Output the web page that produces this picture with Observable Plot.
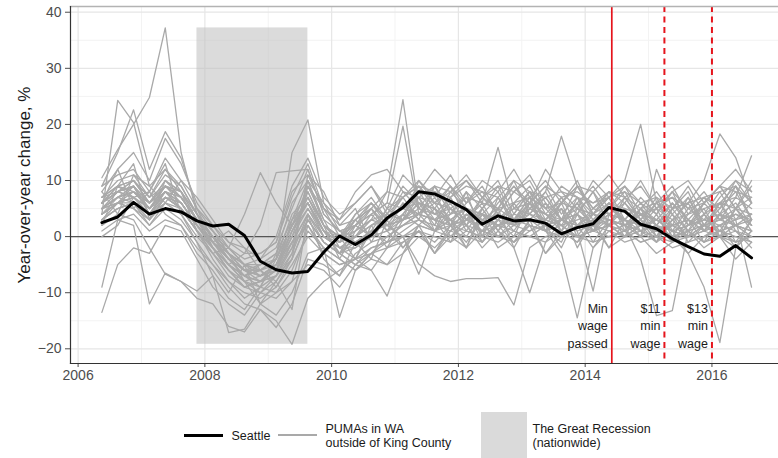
<!DOCTYPE html>
<html>
<head>
<meta charset="utf-8">
<script src="https://cdn.jsdelivr.net/npm/d3@7"></script>
<script src="https://cdn.jsdelivr.net/npm/@observablehq/plot@0.6"></script>
<style>
  body { margin: 0; background: #fff; font-family: "Liberation Sans", Arial, sans-serif; }
  #chart { width: 778px; height: 458px; overflow: hidden; }
  .legend { position: relative; width: 778px; height: 63px; }
  .key { position: absolute; }
  .lab { position: absolute; font-size: 12.5px; color: #1a1a1a; line-height: 14px; white-space: nowrap; }
</style>
</head>
<body>
<div id="chart"></div>
<script>
// Quarters (plotted at the middle of each quarter)
const quarters = [
  "2006Q2","2006Q3","2006Q4",
  "2007Q1","2007Q2","2007Q3","2007Q4",
  "2008Q1","2008Q2","2008Q3","2008Q4",
  "2009Q1","2009Q2","2009Q3","2009Q4",
  "2010Q1","2010Q2","2010Q3","2010Q4",
  "2011Q1","2011Q2","2011Q3","2011Q4",
  "2012Q1","2012Q2","2012Q3","2012Q4",
  "2013Q1","2013Q2","2013Q3","2013Q4",
  "2014Q1","2014Q2","2014Q3","2014Q4",
  "2015Q1","2015Q2","2015Q3","2015Q4",
  "2016Q1","2016Q2","2016Q3"
];

// Seattle, year-over-year change in %
const seattle = [2.5, 3.5, 6.1, 4.0, 5.0, 4.4, 2.8, 1.9, 2.2, 0.2, -4.4, -5.9, -6.5, -6.2, -2.8, 0.1, -1.4, 0.3, 3.3, 5.2, 8.0, 7.6, 6.3, 4.8, 2.2, 3.7, 2.8, 3.0, 2.4, 0.5, 1.6, 2.3, 5.2, 4.5, 2.2, 1.4, -0.4, -1.8, -3.1, -3.5, -1.6, -3.8];

// PUMAs in WA outside of King County, year-over-year change in %
const puma01 = [10.5, 15.5, 20, 24.8, 37.2, 15, 4, -2, -6, -9, -8, -6, 3, 8, 2, -1, 0, 2, 3, 5, 6, 4, 5, 3, 4, 2, 3, 5, 4, 2, 3, 4, 3, 2, 4, 3, 1, 2, 3, 4, 2, 3];
const puma02 = [4, 24.3, 20.3, 9, 12, 8, 3, 0, -4, -7, -5, -4, 2, 6, 1, -3, 2, 6, 3, 8, 5, 9, 4, 7, 2, 6, 9, 5, 3, 7, 4, 8, 2, 6, 3, 7, 1, 5, 8, 4, 6, 2];
const puma03 = [9, 15, 22.6, 12, 18.7, 14, 5, 1, -3, -8, -10, -7, -2, 10, 3, -2, 0, 3, 4, 3, 6, 5, 9, 5, 3, 5, 10, 4, 7, 3, 4, 8, 4, 3, 2, 6, 2, 7, 1, 4, 9, 3];
const puma04 = [-13.5, -5, -2, -3, 2, 1, -4, -9, -12, -14, -10, -11, -8, -5, -6, -9, -5, -3, -1, 0, 2, 1, 0, -2, 1, 0, -1, 2, 1, 0, 2, 1, 0, 1, -1, 0, -2, -1, 0, 1, 0, -1];
const puma05 = [-9, 3, 2, -12, -6.5, -8, -11, -12, -16, -17, -13, -15, -19.2, -11, -8, -6, -4, -6, -2, 0, 1, -1, 2, 1, 0, 2, -1, 1, 3, 2, 0, 1, 2, 0, 1, 3, 1, 0, 2, 1, -1, 0];
const puma06 = [6, 8, 9, 4, 7, 5, 1, -3, -2, 4, 11.4, 6, 2, 9, 5, 0, -4, 2, -2, 3, 7, 1, 4, 8, 0, 5, 3, 7, 1, 5, -2, 3, 6, 2, 5, 0, 4, -1, 2, 6, 1, -2];
const puma07 = [7, 9, 10, 6, 9, 7, 3, -2, -5, -3, 2, 11.4, 11.7, 12, 4, 1, 0, 2, 4, 3, 6, 5, 3, 5, 4, 3, 5, 6, 4, 3, 5, 4, 3, 2, 4, 3, 1, 2, 3, 2, 4, 3];
const puma08 = [5, 8, 10, 7, 11, 9, 4, 0, -4, -7, -9, -4, 15, 20.8, 6, 1, 2, 0, 3, 5, 4, 6, 9, 3, 7, 10, 4, 8, 5, 2, 6, 9, 5, 3, 7, 4, 8, 2, 6, 9, 5, 7];
const puma09 = [3, 6, 5, 2, 6, 4, -1, -7, -17.1, -16.5, -12, -10, -8, 2, -3, -5, -4, -2, -1, 1, 3, 2, 1, 3, 2, 0, 2, 3, 1, 2, 0, 1, 2, 3, 1, 0, 2, 1, -1, 0, 2, 1];
const puma10 = [6, 9, 7, 4, 8, 5, 2, -2, -5, -8, -12, -14, -10, -3, -2, -14.4, -6, -3, 0, 2, 4, 3, -1, 4, 1, 5, -2, 3, 6, 1, 4, -1, 3, 1, 4, 0, 3, 6, 1, 4, -1, 3];
const puma11 = [4, 7, 8, 5, 9, 6, 2, -1, -5, -7, -6, -8, -3, 4, 0, -1, 1, 3, 8, 24.4, 5, 3, 4, 5, 3, 4, 2, 4, 3, 5, 2, 4, 3, 2, 3, 1, 2, 3, 1, 2, 3, 4];
const puma12 = [5, 6, 9, 6, 10, 7, 3, 0, -3, -5, -7, -6, 0, 8, 2, 0, 2, 4, 6, 19.7, 4, 8, 2, -2, 5, 9, 3, 7, 1, 6, 10, 4, 2, 7, 3, -1, 5, 8, 2, 6, 9, 3];
const puma13 = [3, 5, 6, 3, 7, 5, 1, -2, -6, -9, -8, -7, -4, 3, -1, -3, -5, -2, -1, 0, -4.9, -7, -8, -7.5, -7.5, -7.3, -12.2, -2, 0, 1, -1, 2, 1, 0, 2, 1, 0, 1, 2, 0, 1, -1];
const puma14 = [6, 8, 7, 5, 8, 7, 3, 0, -4, -6, -5, -3, 3, 6, 1, -1, 3, 5, 1, 4, 8, 4, 7, 10, 6, 15.9, 5, 8, 3, 6, 9, 4, 7, 2, 5, 8, 4, 1, 6, 3, 7, 5];
const puma15 = [5, 7, 9, 4, 7, 6, 2, -1, -4, -6, -7, -5, 2, 6, 0, -2, -1, 1, 2, 3, 5, 4, 3, 5, 4, 3, 5, 4, 8, 17.9, 9, 5, 4, 3, 2, 3, 2, 3, 2, 3, 4, 2];
const puma16 = [4, 6, 7, 4, 8, 5, 1, -2, -5, -8, -9, -7, -1, 4, -1, -3, -2, 0, 1, 3, 4, 1, 5, 2, -1, 3, 6, 2, 1, -3, -14.5, -2, 2, 5, 1, -1, 3, 0, 4, 1, 5, 2];
const puma17 = [7, 9, 8, 6, 9, 8, 4, 1, -2, -5, -6, -4, 4, 7, 2, 0, 4, 6, 3, 7, 9, 5, 2, 6, 8, 4, 1, 5, 7, 3, 1, -9.7, 4, 6, 2, 5, 0, 4, 7, 3, 5, 1];
const puma18 = [6, 8, 9, 6, 9, 7, 3, -1, -4, -7, -8, -6, 1, 7, 1, -1, 3, 0, 5, 7, 3, 9, 5, 2, 7, 4, 8, 11, 6, 3, 9, 5, 7, 10, 20, 6, 9, 4, 7, 5, 10, 6];
const puma19 = [5, 7, 8, 5, 7, 6, 2, -2, -5, -7, -6, -5, 0, 5, 0, -2, -4, 1, -1, 4, 2, -3, 1, 5, -1, 3, 0, 6, 2, -2, 4, 1, 6, 3, 0, 12, 5, 1, 4, 8, 3, 6];
const puma20 = [4, 6, 6, 4, 7, 5, 1, -2, -6, -8, -7, -6, -1, 4, 0, -2, -2, 0, 1, 2, 4, 3, 2, 4, 3, 2, 4, 3, 2, 3, 4, 2, 3, 2, -4, -14.1, -13.2, 1, 2, 3, 2, 1];
const puma21 = [6, 8, 7, 5, 9, 7, 3, 0, -3, -6, -6, -4, 2, 6, 1, -1, 2, 5, 1, 6, 4, 7, 3, 0, 4, 7, 2, 5, 8, 3, 6, 1, 4, 7, 3, 0, 5, 6, 10, 18.3, 14.1, 6];
const puma22 = [5, 7, 8, 6, 8, 6, 2, -1, -4, -6, -7, -5, 1, 5, 1, -1, 4, 7, 3, 5, 9, 6, 2, 8, 5, 1, 6, 9, 4, 7, 2, 5, 8, 3, 6, 2, 5, 9, 4, 6, 7, 14.4];
const puma23 = [4, 6, 7, 4, 6, 5, 1, -2, -5, -7, -8, -6, -2, 3, -1, -3, -1, 1, 2, 3, 4, 3, 2, 3, 4, 2, 3, 4, 2, 3, 2, 3, 2, 1, 2, 1, 0, -3, -9, -18.9, -2, 1];
const puma24 = [5, 6, 8, 5, 8, 6, 2, -1, -4, -6, -6, -4, 2, 6, 1, 0, 3, 6, 2, 4, 7, 3, 6, 1, 5, 8, 2, 6, 4, 1, 7, 3, 5, 9, 4, 2, 6, 3, -1, 4, 3, -9];
const puma25 = [3, 5, 6, 2, 5, 3, -1, -5, -9, -12, -13, -16.2, -12, -4, -5, -7, -3, -1, 0, 2, 3, 1, 3, 2, 1, 3, 2, 1, 2, 3, 1, 2, 1, 2, 0, 1, 2, 0, 1, 2, 1, 0];
const puma26 = [8, 12, 15, 10, 17.5, 13, 6, 2, -2, -5, -4, -2, 5, 12, 4, 1, 2, 4, 6, 5, 7, 6, 5, 7, 6, 5, 6, 7, 5, 6, 5, 4, 6, 5, 4, 5, 3, 4, 5, 6, 5, 4];
const puma27 = [9, 11, 12, 8, 14, 10, 5, 2, -1, -3, -3, -1, 7, 13, 5, 2, 3, 5, 8, 7, 9, 8, 7, 9, 8, 7, 10, 8, 7, 8, 7, 6, 7, 8, 6, 7, 5, 6, 7, 8, 9, 6];
const puma28 = [1, 3, 4, 1, 3, 2, -2, -5, -8, -10, -11, -9, -5, 0, -3, -5, -4, -3, -2, -1, 1, 0, -1, 1, 0, -1, 1, 0, -1, 1, 0, -1, 0, 1, -1, 0, -1, 0, 1, 0, -1, 0];
const puma29 = [2, 4, 3, -2, -6.7, -8, -9.7, -7, -11, -13, -9, -10, -6, 1, -2, -4, -6, -4, -5, -3, 0, -2, 1, 0, -1, 2, 1, 0, 2, 1, 0, 1, 2, 0, 1, 2, 0, 1, -1, 1, 2, 0];
const puma30 = [7, 10, 11, 7, 12, 9, 4, 1, -3, -5, -5, -3, 3, 10, 6, 3, 8, 11, 12, 8, 7, 9, 8, 10, 7, 9, 8, 6, 9, 7, 8, 6, 8, 7, 5, 6, 7, 5, 6, 9, 8, 7];
const puma31 = [6, 9, 10, 6, 10, 8, 3, -1, -4, -6, -8, -7, -3, 9, 3, 1, -1, 1, 5, 3, 10, 7, 11, 6, 9, 4, 8, 10, 5, 9, 7, 4, 8, 6, 10, 5, 7, 3, 6, 9, 5, 10];
const puma32 = [3, 5, 6, 3, 6, 4, 0, -3, -7, -9, -8, -5, -1, 2, -2, -4, -6, -3, -5, -1, 1, -3, 0, 2, -2, 1, -1, 3, -3, 0, 2, -2, 1, -1, 0, -3, -1, 1, -2, 0, -4, -1];
const puma33 = [7, 8, 10, 7, 9, 8, 4, 0, -2, -4, -3, -1, 8, 11, 5, 3, 6, 9, 4, 7, 10, 6, 8, 11, 7, 5, 9, 6, 12, 8, 5, 10, 7, 9, 6, 4, 8, 5, 3, 7, 10, 8];
const puma34 = [4, 6, 5, 3, 7, 5, 1, -3, -6, -9, -10, -8, -4, 3, -1, -3, -5, -6, -10.6, -3, 2, 1, 2, 3, 1, 2, 3, 2, 1, 3, 2, 1, 3, 2, 1, 2, 1, 0, 2, 1, 2, 1];
const puma35 = [5, 7, 6, 4, 8, 6, 2, -1, -3, -5, -6, -4, 2, 7, 2, 0, 1, 3, 2, 0, -6.7, 1, 3, -2, 4, 0, 3, 6, 1, -1, 5, 2, -2, 3, 0, 4, -1, 2, 5, 0, -2, 3];
const puma36 = [6, 8, 9, 5, 9, 7, 3, 0, -3, -6, -7, -5, 1, 6, 1, -3, 0, 4, 1, -2, 2, 5, 0, 3, 6, 1, -2, -10, -1, 3, 6, 2, 4, 0, 5, 2, -1, 3, 1, 6, 2, 4];
const puma37 = [2, 9, 13, 3, 10, 8, 1, -4, -8, -11, -9, -3, 6, 10, 2, -4, 1, 5, 2, 6, 3, 1, 7, 2, 5, 1, 4, 8, 2, 6, 0, 4, 7, 1, 5, 3, 6, 2, 4, 0, 5, 9];
const puma38 = [8, 4, 11, 9, 6, 10, 7, 3, -1, -2, -6, -9, -4, 11, 8, 2, 5, -1, 4, 9, 6, 2, 8, 5, 0, 7, 3, 6, 9, 4, 7, 1, 5, 8, 3, 6, 4, 7, 2, 5, 8, 3];
const puma39 = [0, 2, 7, 8, 4, 2, -3, -6, -10, -5, -12, -8, -13, 4, -4, -7, -1, -4, 3, -2, 1, -3, 2, -1, 3, -2, 0, 2, -3, 1, -1, 3, -2, 0, 2, -1, 1, -3, 0, 2, -2, 1];
const puma40 = [6, 12, 5, 8, 13, 4, 5, -1, 1, -2, -4, 0, 9, 14, 7, 4, 6, 9, 5, 11, 8, 12, 9, 6, 10, 8, 12, 7, 10, 6, 9, 8, 11, 7, 9, 5, 8, 10, 6, 9, 12, 8];

const pumas = [puma01, puma02, puma03, puma04, puma05, puma06, puma07, puma08, puma09, puma10,
  puma11, puma12, puma13, puma14, puma15, puma16, puma17, puma18, puma19, puma20,
  puma21, puma22, puma23, puma24, puma25, puma26, puma27, puma28, puma29, puma30,
  puma31, puma32, puma33, puma34, puma35, puma36, puma37, puma38, puma39, puma40];

// The Great Recession (nationwide), as decimal years
const recessionStart = 2007.875;
const recessionEnd = 2009.625;

// Seattle minimum wage milestones
const policyDates = [2014.42, 2015.25, 2016.0];
const policyLabels = ["Min\nwage\npassed", "$11\nmin\nwage", "$13\nmin\nwage"];
const policyDashed = [false, true, true];

// Axis ticks
const xTicks = [2006, 2008, 2010, 2012, 2014, 2016];
const xMinor = [2007, 2009, 2011, 2013, 2015];
const yTicks = [-20, -10, 0, 10, 20, 30, 40];
const yMinor = [-15, -5, 5, 15, 25, 35];
const yTitle = "Year-over-year change, %";

// ---- tables for the marks ----
const toYear = q => +q.slice(0, 4) + (+q.slice(5) - 1) / 4 + 0.125;
const pumaRows = [];
pumas.forEach((s, i) => s.forEach((v, k) => pumaRows.push({id: i, t: toYear(quarters[k]), v})));
const seattleRows = seattle.map((v, k) => ({t: toYear(quarters[k]), v}));
const allValues = pumaRows.map(d => d.v).concat(seattle);
const recession = [{x1: recessionStart, x2: recessionEnd, y1: d3.min(allValues), y2: d3.max(allValues)}];
const policies = policyDates.map((date, i) => ({date, label: policyLabels[i], dashed: policyDashed[i]}));

const font = "Liberation Sans, Arial, sans-serif";

const chart = Plot.plot({
  width: 778,
  height: 395,
  marginLeft: 70,
  marginRight: 0,
  marginTop: 6,
  marginBottom: 32,
  style: {fontFamily: font, background: "#fff"},
  x: {domain: [2005.88, 2017.05]},
  y: {domain: [-22.62, 41.02]},
  marks: [
    // panel grid
    Plot.ruleY(yMinor, {stroke: "#f3f3f3", strokeWidth: 1}),
    Plot.ruleX(xMinor, {stroke: "#f3f3f3", strokeWidth: 1}),
    Plot.ruleY(yTicks, {stroke: "#e6e6e6", strokeWidth: 1.2}),
    Plot.ruleX(xTicks, {stroke: "#e6e6e6", strokeWidth: 1.2}),
    // recession band spanning the range of the data
    Plot.rect(recession, {x1: "x1", x2: "x2", y1: "y1", y2: "y2", fill: "#bdbdbd", fillOpacity: 0.55}),
    Plot.ruleY([0], {stroke: "#555", strokeWidth: 1.3}),
    // PUMAs, then Seattle on top
    Plot.line(pumaRows, {x: "t", y: "v", z: "id", stroke: "#a9a9a9", strokeWidth: 1.3}),
    Plot.line(seattleRows, {x: "t", y: "v", stroke: "#000", strokeWidth: 3}),
    // minimum wage milestones
    Plot.ruleX(policies, {filter: d => !d.dashed, x: "date", stroke: "#e5141c", strokeWidth: 1.7}),
    Plot.ruleX(policies, {filter: d => d.dashed, x: "date", stroke: "#e5141c", strokeWidth: 2, strokeDasharray: "6,4.5"}),
    Plot.text(policies, {x: "date", y: -15.7, text: "label", textAnchor: "end", dx: -4,
      lineHeight: 1.42, fontSize: 12.5, fill: "#1a1a1a"}),
    // axes
    Plot.axisY(yTicks, {tickSize: 5, tickPadding: 4, fontSize: 14, color: "#4d4d4d", label: null}),
    Plot.axisX(xTicks, {tickSize: 4, tickPadding: 3, fontSize: 14, color: "#4d4d4d", label: null, tickFormat: d => String(d)}),
    Plot.text([yTitle], {frameAnchor: "left", textAnchor: "middle", rotate: -90, dx: -46, fontSize: 17, fill: "#1a1a1a", text: d => d}),
    // panel border
    Plot.frame({anchor: "top", stroke: "#b3b3b3", strokeWidth: 1.5}),
    Plot.frame({anchor: "left", stroke: "#333", strokeWidth: 1.2}),
    Plot.frame({anchor: "bottom", stroke: "#333", strokeWidth: 1.2})
  ]
});

const root = document.getElementById("chart");
root.appendChild(chart);

// legend below the plot
const legend = document.createElement("div");
legend.className = "legend";
legend.innerHTML = `
  <div class="key" style="left:184px;top:38.5px;width:39px;height:3px;background:#000"></div>
  <div class="lab" style="left:231.5px;top:34px">Seattle</div>
  <div class="key" style="left:278px;top:39px;width:39px;height:2px;background:#a9a9a9"></div>
  <div class="lab" style="left:325.5px;top:27px">PUMAs in WA<br>outside of King County</div>
  <div class="key" style="left:481px;top:16.5px;width:46px;height:50px;background:#dadada"></div>
  <div class="lab" style="left:532.5px;top:27px">The Great Recession<br>(nationwide)</div>`;
root.appendChild(legend);
</script>
</body>
</html>
